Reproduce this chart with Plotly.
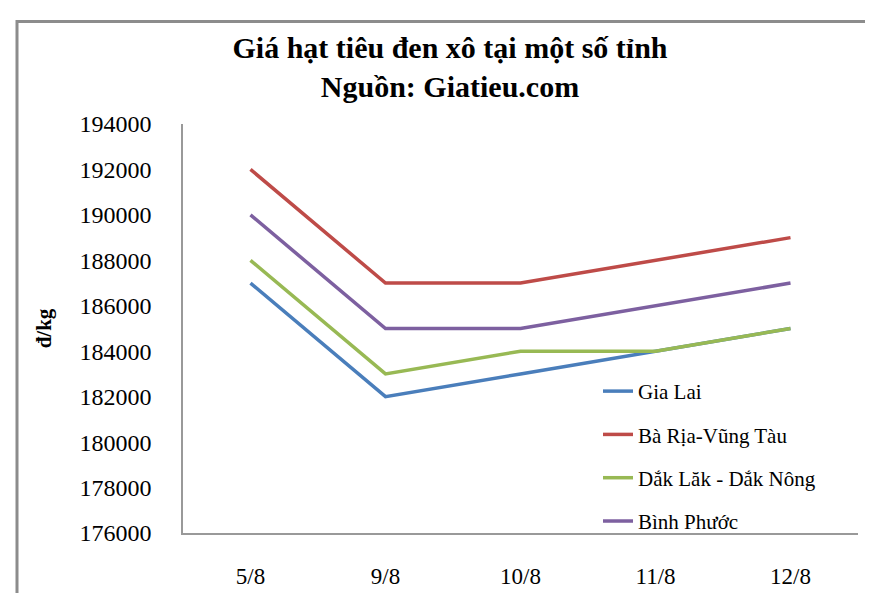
import plotly.graph_objects as go

categories = ["5/8", "9/8", "10/8", "11/8", "12/8"]
gia_lai = [187000, 182000, 183000, 184000, 185000]
ba_ria = [192000, 187000, 187000, 188000, 189000]
dak_lak = [188000, 183000, 184000, 184000, 185000]
binh_phuoc = [190000, 185000, 185000, 186000, 187000]

series = [
    ("Gia Lai", gia_lai, "#4A7EBB"),
    ("Bà Rịa-Vũng Tàu", ba_ria, "#BE4B48"),
    ("Dắk Lăk - Dắk Nông", dak_lak, "#98B954"),
    ("Bình Phước", binh_phuoc, "#7D60A0"),
]

SERIF = "Liberation Serif"

fig = go.Figure()
for name, vals, color in series:
    fig.add_trace(go.Scatter(
        x=categories, y=vals, mode="lines", name=name,
        legendgroup=name,
        line=dict(color=color, width=3.5),
    ))

L, R, T, B = 175, 23, 116, 58
W, H = 873, 593
pw, ph = W - L - R, H - T - B

def px_x(p):
    return (p - L) / pw

def px_y(p):
    return (H - B - p) / ph

fig.update_layout(
    width=W, height=H,
    margin=dict(l=L, r=R, t=T, b=B),
    paper_bgcolor="white", plot_bgcolor="white",
    font=dict(family=SERIF, color="black"),
    title=dict(
        text="<b>Giá hạt tiêu đen xô tại một số tỉnh<br>Nguồn: Giatieu.com</b>",
        font=dict(family=SERIF, size=30, color="black"),
        x=442 / W, xanchor="center", y=1 - 50 / H, yanchor="top",
        xref="container", yref="container",
    ),
    xaxis=dict(
        type="category", range=[-0.5, 4.5], showgrid=False, showline=True,
        linecolor="#999999", linewidth=1.5, ticks="",
        tickfont=dict(family=SERIF, size=23, color="black"),
        ticklabelstandoff=22, zeroline=False,
    ),
    yaxis=dict(
        range=[176000, 194000], dtick=2000, tick0=176000,
        showgrid=False, showline=True, linecolor="#999999", linewidth=1.5,
        ticks="", tickfont=dict(family=SERIF, size=24, color="black"),
        ticklabelstandoff=25, zeroline=False, tickformat="d",
        title=dict(text="<b>đ/kg</b>", font=dict(family=SERIF, size=21, color="black"), standoff=22),
    ),
    legend=dict(
        x=px_x(590), y=px_y(369), xanchor="left", yanchor="top",
        font=dict(family=SERIF, size=21, color="black"),
        bgcolor="rgba(0,0,0,0)", tracegroupgap=13,
    ),
    showlegend=True,
)

fig.add_shape(
    type="rect", xref="paper", yref="paper",
    x0=px_x(9), x1=px_x(900), y0=px_y(620), y1=px_y(11),
    line=dict(color="#8c8c8c", width=3), fillcolor="rgba(0,0,0,0)", layer="below",
)

fig.write_html("out.html")
